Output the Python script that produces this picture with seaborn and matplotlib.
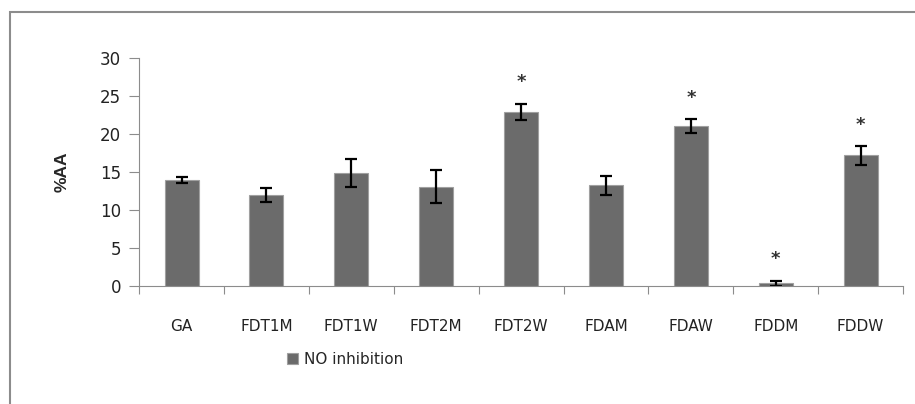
import numpy as np
import pandas as pd
import seaborn as sns
import matplotlib.pyplot as plt
from matplotlib.patches import Rectangle

samples = ['GA', 'FDT1M', 'FDT1W', 'FDT2M', 'FDT2W', 'FDAM', 'FDAW', 'FDDM', 'FDDW']
no_inhibition = [14.0, 12.0, 14.9, 13.1, 22.9, 13.25, 21.1, 0.35, 17.2]
err = [0.4, 0.9, 1.8, 2.2, 1.1, 1.3, 0.9, 0.35, 1.2]
significant = [False, False, False, False, True, False, True, True, True]

df = pd.DataFrame({'sample': samples, 'AA': no_inhibition})

sns.set_style("white")
plt.rcParams['font.family'] = ['DejaVu Sans']

fig = plt.figure(figsize=(9.15, 4.04), dpi=100)
ax = fig.add_axes([0.152, 0.292, 0.835, 0.564])

# outer chart frame
fig.patches.append(Rectangle((10 / 915, -0.1), 1.2, 1 - 12 / 404 + 0.1,
                             transform=fig.transFigure, fill=False,
                             edgecolor='#8c8c8c', linewidth=1.5))

sns.barplot(data=df, x='sample', y='AA', color='#6b6b6b', width=0.4,
            edgecolor='#a0a0a0', linewidth=0.8, saturation=1,
            label='NO inhibition', ax=ax)

x = np.arange(len(samples))
ax.errorbar(x, no_inhibition, yerr=err, fmt='none', ecolor='black',
            elinewidth=1.6, capsize=4, capthick=1.6)

for xi, v, e, s in zip(x, no_inhibition, err, significant):
    if s:
        ax.text(xi, v + e + 2.8, '*', ha='center', va='center',
                fontsize=13, fontweight='bold', color='#333333')

ax.set_ylim(0, 30)
ax.set_xlim(-0.5, len(samples) - 0.5)
ax.set_yticks(range(0, 31, 5))
ax.set_xlabel('')
ax.set_ylabel('%AA', fontsize=12.5, fontweight='bold',
              family='Liberation Sans', labelpad=22)

ax.set_xticks(np.arange(-0.5, len(samples)), minor=True)
ax.tick_params(axis='x', which='major', length=0, pad=24, labelsize=11)
ax.tick_params(axis='x', which='minor', length=6, width=0.8, color='#8c8c8c',
               direction='out', bottom=True)
ax.tick_params(axis='y', length=7, width=0.8, color='#8c8c8c',
               direction='out', left=True, labelsize=12, pad=6)
for lab in ax.get_yticklabels() + ax.get_xticklabels():
    lab.set_color('#222222')

for side in ['top', 'right']:
    ax.spines[side].set_visible(False)
for side in ['left', 'bottom']:
    ax.spines[side].set_color('#8c8c8c')
    ax.spines[side].set_linewidth(0.8)

ax.legend(loc='center', bbox_to_anchor=(345 / 915, 1 - 359 / 404),
          bbox_transform=fig.transFigure, frameon=False, fontsize=11,
          handlelength=0.7, handleheight=0.7, handletextpad=0.4)

fig.savefig('out.png', dpi=100)
